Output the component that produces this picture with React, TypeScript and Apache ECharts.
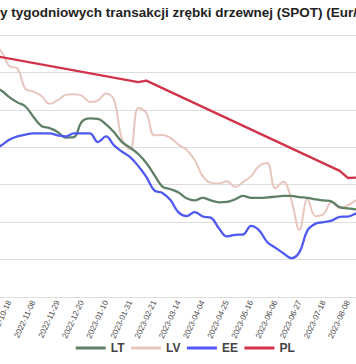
import React, { useEffect, useRef } from 'react';
import * as echarts from 'echarts';

const dates = [
  '2022-09-27', '2022-10-04', '2022-10-11', '2022-10-18', '2022-10-25', '2022-11-01',
  '2022-11-08', '2022-11-15', '2022-11-22', '2022-11-29', '2022-12-06', '2022-12-13',
  '2022-12-20', '2022-12-27', '2023-01-03', '2023-01-10', '2023-01-17', '2023-01-24',
  '2023-01-31', '2023-02-07', '2023-02-14', '2023-02-21', '2023-02-28', '2023-03-07',
  '2023-03-14', '2023-03-21', '2023-03-28', '2023-04-04', '2023-04-11', '2023-04-18',
  '2023-04-25', '2023-05-02', '2023-05-09', '2023-05-16', '2023-05-23', '2023-05-30',
  '2023-06-06', '2023-06-13', '2023-06-20', '2023-06-27', '2023-07-04', '2023-07-11',
  '2023-07-18', '2023-07-25', '2023-08-01', '2023-08-08', '2023-08-15', '2023-08-22',
];

const LT = [
  56.6, 56.0, 55.2, 53.4, 52.0, 50.9, 48.1, 45.7, 45.1, 44.1, 42.6, 42.7,
  46.8, 47.7, 47.6, 46.1, 44.0, 41.4, 39.9, 38.2, 35.8, 32.6, 29.5, 28.8,
  27.9, 26.4, 25.8, 26.5, 25.8, 25.3, 25.4, 26.1, 27.0, 26.5, 26.5, 26.6,
  26.8, 27.0, 27.0, 26.7, 26.5, 26.1, 25.8, 25.5, 24.0, 23.7, 23.4, 23.2,
];

const LV = [
  67.3, 67.3, 65.6, 61.7, 61.1, 55.6, 54.9, 53.7, 51.6, 52.6, 54.0, 54.2,
  53.8, 52.1, 52.5, 54.4, 52.6, 42.0, 39.5, 50.5, 49.2, 43.2, 43.3, 42.5,
  40.7, 39.3, 36.6, 32.3, 30.5, 30.3, 30.9, 29.4, 30.7, 32.3, 35.0, 35.8,
  29.1, 30.8, 25.9, 17.9, 26.2, 21.6, 22.2, 25.4, 23.8, 24.5, 25.8, 26.5,
];

const EE = [
  38.5, 39.3, 40.5, 42.0, 42.9, 43.4, 43.7, 43.7, 43.7, 43.2, 42.9, 43.7,
  43.7, 43.7, 41.4, 42.9, 40.5, 38.8, 37.4, 35.0, 32.1, 28.5, 27.8, 25.9,
  22.6, 21.6, 22.7, 21.5, 21.2, 18.4, 16.2, 16.6, 16.7, 19.0, 17.8, 14.7,
  13.2, 11.7, 10.4, 12.0, 17.8, 19.6, 20.0, 20.4, 21.4, 21.5, 22.3, 23.2,
];

const PL = [
  64.9, null, null, null, null, null, null, null, null, null, null, null,
  null, null, null, null, null, null, null, 57.4, 57.8, null, null, null,
  null, null, null, null, null, null, null, null, null, null, null, null,
  null, null, null, null, null, null, null, null, 33.7, 31.8, 31.9, 31.9,
];

const seriesNames = ['LT', 'LV', 'EE', 'PL'];
const colors = ['#5f8066', '#e8c6be', '#4f5af2', '#d0334a'];

const TITLE = 'Ceny tygodniowych transakcji zrębki drzewnej (SPOT) (Eur/MWh)';
const TITLE_PREFIX = 'Cen';

const OFF = 60;
const VW = 356;
const VH = 364;
const FONT = "'Liberation Sans', Arial, Helvetica, sans-serif";

export default function App() {
  const ref = useRef<HTMLDivElement>(null);

  useEffect(() => {
    if (!ref.current) return;
    const chart = echarts.init(ref.current, undefined, { renderer: 'svg' });

    const cv = document.createElement('canvas');
    const ctx = cv.getContext('2d');
    let prefixW = 25.5;
    if (ctx) {
      ctx.font = "bold 13.5px 'Liberation Sans'";
      prefixW = ctx.measureText(TITLE_PREFIX).width;
    }

    const dataSets = [LT, LV, EE, PL];

    chart.setOption({
      animation: false,
      textStyle: { fontFamily: FONT },
      graphic: [
        {
          type: 'text',
          x: OFF - prefixW,
          y: 12.8,
          style: {
            text: TITLE,
            fontSize: 13.5,
            fontWeight: 'bold',
            fontFamily: FONT,
            fill: '#222222',
            align: 'left',
            verticalAlign: 'middle',
          },
        },
      ],
      legend: {
        data: seriesNames,
        left: OFF + 70.7,
        top: 337,
        icon: 'rect',
        itemWidth: 30,
        itemHeight: 3,
        itemGap: 6.5,
        textStyle: { fontSize: 12, fontWeight: 'bold', color: '#444444', fontFamily: FONT },
      },
      grid: {
        left: OFF - 14.9,
        right: VW + 2 * OFF - (363.92 + OFF),
        top: 35,
        bottom: VH - 297,
      },
      xAxis: {
        type: 'category',
        data: dates,
        boundaryGap: false,
        axisLine: { show: false },
        axisTick: { show: false },
        axisLabel: {
          interval: 2,
          rotate: 65,
          fontSize: 8,
          color: '#4a4a4a',
          margin: 4,
          fontFamily: FONT,
        },
      },
      yAxis: {
        type: 'value',
        min: 0,
        max: 70,
        interval: 10,
        axisLabel: { show: false },
        axisLine: { show: false },
        axisTick: { show: false },
        splitLine: { lineStyle: { color: '#dddddd', width: 1 } },
      },
      series: seriesNames.map((name, i) => ({
        name,
        type: 'line',
        data: dataSets[i],
        smooth: name === 'PL' ? false : 0.4,
        connectNulls: true,
        showSymbol: false,
        symbol: 'none',
        lineStyle: { color: colors[i], width: name === 'LV' ? 2 : 2.3 },
        itemStyle: { color: colors[i] },
        z: name === 'PL' ? 4 : name === 'LV' ? 1 : 3,
      })),
    });

    return () => chart.dispose();
  }, []);

  return (
    <div
      style={{
        position: 'fixed',
        left: 0,
        top: 0,
        width: VW,
        height: VH,
        overflow: 'hidden',
        background: '#ffffff',
      }}
    >
      <div
        ref={ref}
        style={{ position: 'absolute', left: -OFF, top: 0, width: VW + 2 * OFF, height: VH }}
      />
    </div>
  );
}
